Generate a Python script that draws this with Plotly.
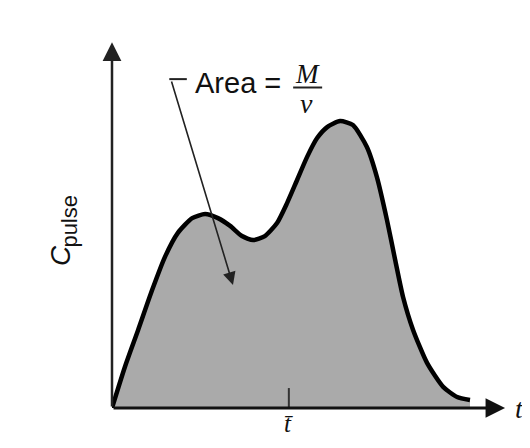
import plotly.graph_objects as go

# Pulse concentration curve (arbitrary units)
t_vals = [0, 0.36, 0.73, 1.12, 1.48, 1.84, 2.24, 2.60, 2.96, 3.30, 3.63, 3.94,
          4.27, 4.61, 4.89, 5.17, 5.45, 5.73, 6.01, 6.37, 6.73, 7.12, 7.40, 7.68,
          7.91, 8.13, 8.41, 8.80, 9.25, 9.64, 10.0]
c_vals = [0, 1.42, 2.70, 4.08, 5.23, 6.06, 6.57, 6.71, 6.57, 6.30, 5.95, 5.81,
          5.95, 6.40, 7.09, 7.89, 8.69, 9.34, 9.72, 9.93, 9.79, 9.03, 7.99, 6.51,
          5.12, 3.84, 2.70, 1.56, 0.73, 0.38, 0.28]
t_bar = 4.94

X_MAX = 410 / 35.8
Y_MAX = 400 / 28.9

fig = go.Figure()
fig.add_trace(go.Scatter(
    x=t_vals, y=c_vals, mode="lines",
    line=dict(color="black", width=4.5, shape="spline", smoothing=0.6),
    fill="tozeroy", fillcolor="rgb(170,170,170)",
    hoverinfo="skip", showlegend=False,
))

serif = "Liberation Serif"
sans = "Liberation Sans"
ink = "#111"

ann = []
# axes arrows
ann.append(dict(x=0, y=12.66, ax=0, ay=0, xref="x", yref="y", axref="x", ayref="y",
                showarrow=True, arrowhead=2, arrowsize=1.5, arrowwidth=2.5,
                arrowcolor="#222", text=""))
ann.append(dict(x=10.98, y=0, ax=0, ay=0, xref="x", yref="y", axref="x", ayref="y",
                showarrow=True, arrowhead=2, arrowsize=1.3, arrowwidth=3,
                arrowcolor=ink, text=""))
# area pointer
ann.append(dict(x=3.38, y=4.26, ax=1.65, ay=11.35, xref="x", yref="y", axref="x", ayref="y",
                showarrow=True, arrowhead=2, arrowsize=1.6, arrowwidth=1.6,
                arrowcolor="#222", text=""))
# labels
ann.append(dict(x=3.52, y=11.25, xref="x", yref="y", text="Area =", showarrow=False,
                xanchor="center", yanchor="middle", font=dict(family=sans, size=29, color=ink)))
ann.append(dict(x=5.47, y=11.56, xref="x", yref="y", text="<i>M</i>", showarrow=False,
                xanchor="center", yanchor="middle", font=dict(family=serif, size=27, color=ink)))
ann.append(dict(x=5.42, y=10.52, xref="x", yref="y", text="<i>v</i>", showarrow=False,
                xanchor="center", yanchor="middle", font=dict(family=serif, size=28, color=ink)))
ann.append(dict(x=11.38, y=0.0, xref="x", yref="y", text="<i>t</i>", showarrow=False,
                xanchor="center", yanchor="middle", font=dict(family=serif, size=28, color=ink)))
ann.append(dict(x=t_bar / X_MAX, y=-31 / 400, xref="paper", yref="paper",
                text="<i>t\u0304</i>", showarrow=False,
                xanchor="center", yanchor="bottom", font=dict(family=serif, size=25, color=ink)))
ann.append(dict(x=-52 / 410, y=0.38, xref="paper", yref="paper",
                text="<i>C</i>", showarrow=False, textangle=-90,
                xanchor="center", yanchor="middle", font=dict(family=sans, size=28, color=ink)))
ann.append(dict(x=-42 / 410, y=0.466, xref="paper", yref="paper",
                text="pulse", showarrow=False, textangle=-90,
                xanchor="center", yanchor="middle", font=dict(family=sans, size=22, color=ink)))

shapes = [
    dict(type="line", xref="x", yref="y", x0=1.60, y0=11.38, x1=2.09, y1=11.38,
         line=dict(color="#222", width=2)),
    dict(type="line", xref="x", yref="y", x0=5.06, y0=11.09, x1=5.87, y1=11.09,
         line=dict(color="#222", width=2)),
    dict(type="line", xref="x", yref="y", x0=t_bar, y0=0, x1=t_bar, y1=0.69,
         line=dict(color="#333", width=2)),
]

fig.update_layout(
    width=514, height=432,
    margin=dict(l=104, r=0, t=0, b=32),
    paper_bgcolor="white", plot_bgcolor="white",
    xaxis=dict(range=[0, X_MAX], visible=False, fixedrange=True),
    yaxis=dict(range=[0, Y_MAX], visible=False, fixedrange=True),
    annotations=ann, shapes=shapes,
)

fig.write_html("out.html")
